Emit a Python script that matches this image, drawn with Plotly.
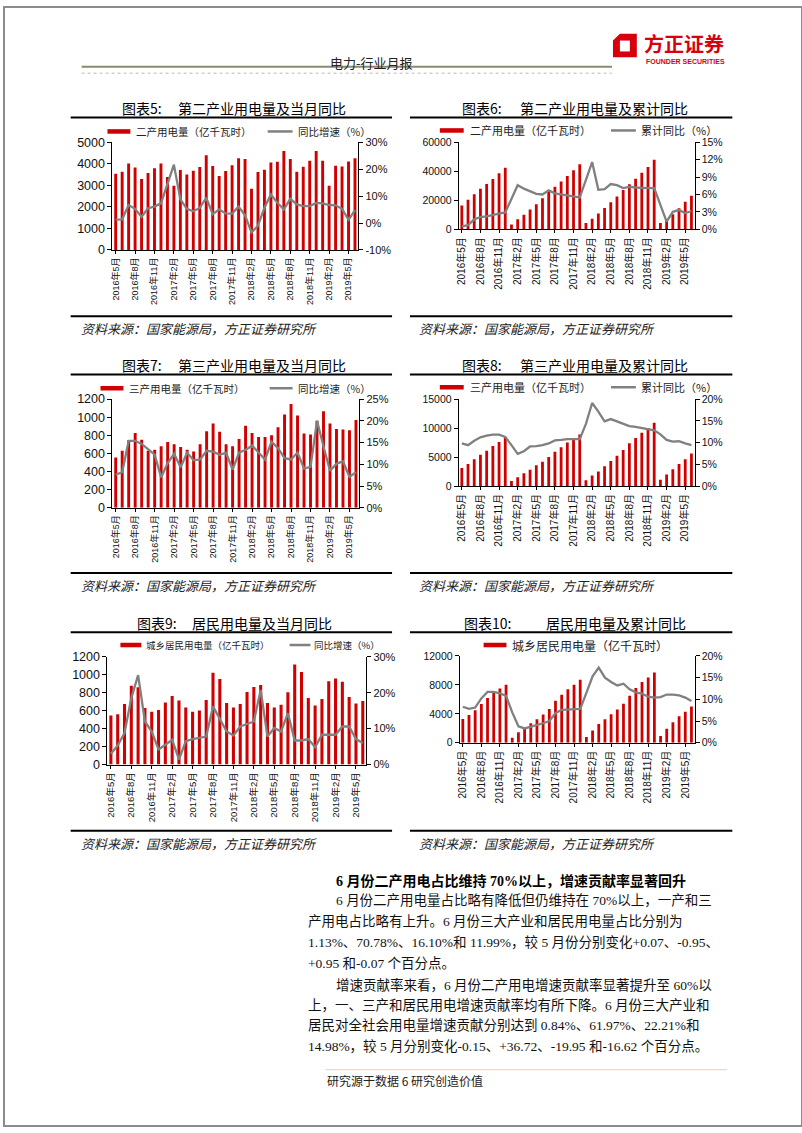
import plotly.graph_objects as go

W, H = 802, 1133

# ---------------- data ----------------
months = ["2016年5月", "2016年6月", "2016年7月", "2016年8月", "2016年9月", "2016年10月", "2016年11月", "2016年12月",
          "2017年1月", "2017年2月", "2017年3月", "2017年4月", "2017年5月", "2017年6月", "2017年7月", "2017年8月",
          "2017年9月", "2017年10月", "2017年11月", "2017年12月",
          "2018年1月", "2018年2月", "2018年3月", "2018年4月", "2018年5月", "2018年6月", "2018年7月", "2018年8月",
          "2018年9月", "2018年10月", "2018年11月", "2018年12月",
          "2019年1月", "2019年2月", "2019年3月", "2019年4月", "2019年5月", "2019年6月"]
tick_labels = ["2016年5月", "2016年8月", "2016年11月", "2017年2月", "2017年5月", "2017年8月", "2017年11月",
               "2018年2月", "2018年5月", "2018年8月", "2018年11月", "2019年2月", "2019年5月"]

sec_month = [3540, 3630, 4020, 3830, 3300, 3570, 3790, 4020, 3390, 2980, 3710, 3500, 3680, 3850, 4400, 3900,
             3440, 3670, 3930, 4260, 4220, 2840, 3620, 3730, 4060, 4100, 4600, 4220, 3630, 3860, 4140, 4600,
             4140, 2980, 3910, 3880, 4110, 4260]
sec_month_yoy = [1.3, 1.4, 6.7, 5.3, 2.3, 5.5, 6.1, 7.3, 14.5, 21.7, 8.8, 5.3, 4.4, 5.6, 9.4, 3.3, 5.1, 3.6,
                 3.5, 6.1, 2.9, -3.5, -1.0, 5.7, 10.6, 7.5, 5.1, 9.0, 6.9, 6.3, 6.3, 7.5, 7.3, 6.7, 6.6, 5.3,
                 1.2, 4.8]
sec_cum = [16300, 20400, 24200, 28000, 31200, 34600, 38700, 42500, 3200, 6800, 10000, 13600, 17200, 21300,
           25800, 29400, 33000, 36700, 40700, 44800, 4300, 7200, 10900, 14700, 18600, 22600, 27100, 31000,
           34800, 38900, 43000, 48000, 4300, 6800, 10400, 14500, 19000, 23100]
sec_cum_yoy = [0.5, 0.7, 1.7, 2.1, 2.2, 2.5, 2.7, 2.9, 5.3, 7.6, 7.0, 6.5, 6.1, 6.0, 6.7, 6.2, 6.0, 5.8, 5.6,
               5.5, 8.5, 11.6, 6.8, 6.9, 7.8, 7.6, 7.1, 7.3, 7.2, 7.1, 7.1, 7.1, 4.2, 1.3, 3.0, 3.3, 2.8, 3.1]

ter_month = [555, 630, 745, 825, 750, 630, 640, 680, 725, 700, 670, 640, 620, 700, 845, 930, 840, 700, 680,
             760, 905, 825, 780, 780, 800, 890, 1030, 1145, 1020, 820, 810, 960, 1065, 930, 870, 865, 855, 970]
ter_month_yoy = [7.6, 8.2, 15.4, 15.4, 14.7, 13.5, 12.2, 7.0, 10.3, 12.4, 9.3, 12.7, 10.9, 11.1, 13.1, 12.9,
                 12.2, 12.6, 8.8, 12.7, 13.3, 14.3, 12.7, 11.1, 15.2, 13.7, 11.4, 11.1, 12.7, 9.0, 9.4, 20.0,
                 14.1, 8.5, 10.1, 10.7, 7.1, 8.2]
ter_cum = [3100, 3800, 4600, 5400, 6100, 6900, 7600, 8400, 850, 1500, 2200, 2800, 3600, 4200, 5000, 5900,
           6700, 7500, 8300, 8900, 1000, 1800, 2500, 3400, 4300, 5200, 6200, 7400, 8300, 9200, 10000, 10900,
           1100, 2000, 2900, 3800, 4600, 5600]
ter_cum_yoy = [9.8, 9.4, 10.4, 11.2, 11.6, 11.8, 11.8, 11.3, 9.4, 7.4, 8.0, 9.1, 9.2, 9.4, 9.8, 10.5, 10.6,
               10.8, 10.8, 10.8, 14.3, 19.1, 17.1, 14.9, 15.4, 14.9, 14.3, 13.8, 13.6, 13.3, 13.1, 12.8, 11.9,
               10.6, 10.2, 10.3, 9.8, 9.4]

res_month = [547, 561, 676, 879, 860, 631, 587, 609, 690, 764, 713, 635, 587, 602, 720, 1023, 953, 687, 635,
             676, 809, 864, 886, 687, 635, 665, 805, 1115, 1030, 742, 657, 731, 927, 960, 923, 753, 679, 709]
res_month_yoy = [3.0, 5.3, 8.8, 18.5, 24.9, 12.0, 9.2, 4.2, 5.5, 6.9, 1.4, 6.5, 7.1, 7.4, 7.8, 16.2, 12.9,
                 9.2, 8.1, 10.6, 11.3, 12.0, 20.8, 7.8, 10.2, 9.2, 14.3, 6.7, 6.7, 7.1, 4.8, 8.3, 8.3, 8.3,
                 10.6, 10.6, 7.1, 6.0]
res_cum = [3300, 3850, 4500, 5350, 6200, 6900, 7500, 8000, 700, 1450, 2100, 2700, 3250, 3900, 4650, 5800,
           6650, 7400, 8000, 8700, 800, 1700, 2600, 3250, 3950, 4600, 5400, 6500, 7550, 8400, 9000, 9700,
           950, 1950, 2850, 3650, 4300, 5000]
res_cum_yoy = [8.3, 7.8, 8.1, 10.2, 11.7, 11.7, 11.4, 10.8, 7.0, 3.8, 3.3, 3.7, 4.0, 4.5, 5.0, 6.8, 7.6, 7.7,
               7.7, 7.8, 11.5, 15.3, 17.3, 15.0, 14.0, 13.2, 13.6, 12.3, 11.6, 11.3, 10.6, 10.4, 10.5, 11.1,
               11.1, 10.9, 10.4, 9.6]

# ---------------- styling ----------------
RED = "#D00000"
GRAY = "#808080"
CJK = "Noto Sans CJK SC"
NUM = "Liberation Sans, Noto Sans CJK SC"
SERIF = "Liberation Serif, Noto Sans CJK SC"


def px(x):
    return x / W


def py(y):
    return 1 - y / H


charts = [
    dict(bars=sec_month, line=sec_month_yoy, no="图表5:", title="第二产业用电量及当月同比",
         bar_name="二产用电量（亿千瓦时）", line_name="同比增速（%）",
         box=(109, 137, 356, 246), yl=(0, 5000, 1000), yr=(-10, 30, 10),
         no_x=117, title_x=173, title_y=102, leg=(104, 127, 126, 131, 265, 290, 293, 10.5),
         yfs=12.5, yrfs=11, xfs=9),
    dict(bars=sec_cum, line=sec_cum_yoy, no="图表6:", title="第二产业用电量及累计同比",
         bar_name="二产用电量（亿千瓦时）", line_name="累计同比（%）",
         box=(457, 137, 694, 225), yl=(0, 60000, 20000), yr=(0, 15, 3),
         no_x=458, title_x=517, title_y=102, leg=(438, 462, 125, 466, 610, 635, 638, 11),
         yfs=10.5, yrfs=10.5, xfs=10),
    dict(bars=ter_month, line=ter_month_yoy, no="图表7:", title="第三产业用电量及当月同比",
         bar_name="三产用电量（亿千瓦时）", line_name="同比增速（%）",
         box=(109, 397, 357, 507), yl=(0, 1200, 200), yr=(0, 25, 5),
         no_x=117, title_x=173, title_y=362, leg=(97, 120, 386, 124, 267, 290, 293, 10.5),
         yfs=12.5, yrfs=11, xfs=9),
    dict(bars=ter_cum, line=ter_cum_yoy, no="图表8:", title="第三产业用电量及累计同比",
         bar_name="三产用电量（亿千瓦时）", line_name="累计同比（%）",
         box=(457, 397, 694, 485), yl=(0, 15000, 5000), yr=(0, 20, 5),
         no_x=458, title_x=517, title_y=362, leg=(438, 462, 385, 466, 610, 635, 638, 11),
         yfs=10.5, yrfs=10.5, xfs=10),
    dict(bars=res_month, line=res_month_yoy, no="图表9:", title="居民用电量及当月同比",
         bar_name="城乡居民用电量（亿千瓦时）", line_name="同比增速（%）",
         box=(104, 658, 364, 767), yl=(0, 1200, 200), yr=(0, 30, 10),
         no_x=132, title_x=187, title_y=624, leg=(117, 138, 646, 141, 287, 308, 310, 9.5),
         yfs=12.5, yrfs=11, xfs=9.5),
    dict(bars=res_cum, line=res_cum_yoy, no="图表10:", title="居民用电量及累计同比",
         bar_name="城乡居民用电量（亿千瓦时）", line_name=None,
         box=(458, 657, 694, 745), yl=(0, 12000, 4000), yr=(0, 20, 5),
         no_x=460, title_x=543, title_y=624, leg=(482, 505, 646, 509, None, None, None, 12),
         yfs=10.5, yrfs=10.5, xfs=10),
]

fig = go.Figure()
layout = {}
annotations = []
shapes = []


def txt(x, y, s, size, color="#111", family=CJK, xanchor="left", yanchor="middle", **kw):
    annotations.append(dict(x=px(x), y=py(y), xref="paper", yref="paper", text=s, showarrow=False,
                            xanchor=xanchor, yanchor=yanchor,
                            font=dict(size=size, color=color, family=family, **kw)))


def hline(x0, x1, y, color="black", width=2, dash=None):
    ln = dict(color=color, width=width)
    if dash:
        ln["dash"] = dash
    shapes.append(dict(type="line", xref="paper", yref="paper", x0=px(x0), x1=px(x1), y0=py(y), y1=py(y),
                       line=ln))


for i, c in enumerate(charts):
    xid = "x" if i == 0 else f"x{i + 1}"
    ylid = "y" if i == 0 else f"y{2 * i + 1}"
    yrid = f"y{2 * i + 2}"
    fig.add_trace(go.Bar(x=months, y=c["bars"], name=c["bar_name"], marker=dict(color=RED, line=dict(width=0)),
                         xaxis=xid, yaxis=ylid, showlegend=False))
    fig.add_trace(go.Scatter(x=months, y=c["line"], mode="lines", name=c["line_name"] or "累计同比",
                             line=dict(color=GRAY, width=2.3), xaxis=xid, yaxis=yrid, showlegend=False))
    x0, y0, x1, y1 = c["box"]
    xkey = "xaxis" if i == 0 else f"xaxis{i + 1}"
    ylkey = "yaxis" if i == 0 else f"yaxis{2 * i + 1}"
    yrkey = f"yaxis{2 * i + 2}"
    layout[xkey] = dict(domain=[px(x0), px(x1)], anchor=ylid, type="category", categoryorder="array",
                        categoryarray=months, range=[-0.5, len(months) - 0.5], tickmode="array",
                        tickvals=tick_labels, ticktext=tick_labels, tickangle=-90,
                        tickfont=dict(family=NUM, size=c["xfs"], color="#111"),
                        showline=True, linecolor="black", linewidth=1, ticks="outside", ticklen=3,
                        tickcolor="black", showgrid=False, zeroline=False)
    lo, hi, st = c["yl"]
    lvals = list(range(lo, hi + 1, st))
    layout[ylkey] = dict(domain=[py(y1), py(y0)], anchor=xid, range=[lo, hi], tickmode="array",
                         tickvals=lvals, ticktext=[str(v) for v in lvals],
                         tickfont=dict(family=NUM, size=c["yfs"], color="#111"),
                         showline=True, linecolor="black", linewidth=1, ticks="outside", ticklen=4,
                         tickcolor="black", showgrid=False, zeroline=False)
    rlo, rhi, rst = c["yr"]
    rvals = list(range(rlo, rhi + 1, rst))
    layout[yrkey] = dict(anchor=xid, overlaying=ylid, side="right", range=[rlo, rhi], tickmode="array",
                         tickvals=rvals, ticktext=[f"{v}%" for v in rvals],
                         tickfont=dict(family=NUM, size=c["yrfs"], color="#111"),
                         showline=True, linecolor="black", linewidth=1, ticks="outside", ticklen=4,
                         tickcolor="black", showgrid=False, zeroline=False)

    # title
    txt(c["no_x"], c["title_y"], c["no"], 14, color="#000")
    txt(c["title_x"], c["title_y"], c["title"], 14, color="#000")
    # legend
    kx0, kx1, ky, lx, gx0, gx1, glx, fs = c["leg"]
    shapes.append(dict(type="rect", xref="paper", yref="paper", x0=px(kx0), x1=px(kx1), y0=py(ky + 2.3),
                       y1=py(ky - 2.3), fillcolor=RED, line=dict(width=0)))
    txt(lx, ky, c["bar_name"], fs, color="#222")
    if c["line_name"]:
        hline(gx0, gx1, ky, color=GRAY, width=2.5)
        txt(glx, ky, c["line_name"], fs, color="#222")

# frame rules and sources
for row, (ty, by, sy) in enumerate([(112, 313, 326), (372, 573, 586), (633, 834, 847)]):
    for (lx0, lx1, sx) in [(67, 390, 75), (408, 732, 415)]:
        hline(lx0, lx1, ty, width=2)
        hline(lx0, lx1, by, width=2)
        txt(sx, sy, "资料来源：国家能源局，方正证券研究所", 13, color="#222", style="italic")

# header
txt(369, 56, "电力-行业月报", 13, color="#222", xanchor="center")
hline(78, 611, 60.5, color="#8A8A70", width=2)
hline(78, 611, 67, color="#BBBBBB", width=1, dash="dot")
# logo
outer = "M {},{} L {},{} L {},{} L {},{} L {},{} Z".format(
    px(612), py(34), px(619), py(27), px(636), py(27), px(636), py(51), px(612), py(51))
inner = "M {},{} L {},{} L {},{} L {},{} Z".format(
    px(619), py(34), px(629), py(34), px(629), py(45), px(619), py(45))
shapes.append(dict(type="path", xref="paper", yref="paper", path=outer, fillcolor="#D7000F",
                   line=dict(width=0)))
shapes.append(dict(type="path", xref="paper", yref="paper", path=inner, fillcolor="white",
                   line=dict(width=0)))
txt(641, 37, "<b>方正证券</b>", 20, color="#D7000F")
txt(643, 55, "<b>FOUNDER SECURITIES</b>", 7, color="#D7000F", family="Liberation Sans")

# body text
txt(332, 885, "<b>6 月份二产用电占比维持 70%以上，增速贡献率显著回升</b>", 14, color="#000", family=SERIF)
body = [
    ("6 月份二产用电量占比略有降低但仍维持在 70%以上，一产和三", 332, 905),
    ("产用电占比略有上升。6 月份三大产业和居民用电量占比分别为", 304, 926),
    ("1.13%、70.78%、16.10%和 11.99%，较 5 月份分别变化+0.07、-0.95、", 304, 947),
    ("+0.95 和-0.07 个百分点。", 304, 968),
    ("增速贡献率来看，6 月份二产用电增速贡献率显著提升至 60%以", 332, 990),
    ("上，一、三产和居民用电增速贡献率均有所下降。6 月份三大产业和", 304, 1010),
    ("居民对全社会用电量增速贡献分别达到 0.84%、61.97%、22.21%和", 304, 1031),
    ("14.98%，较 5 月分别变化-0.15、+36.72、-19.95 和-16.62 个百分点。", 304, 1052),
]
for s, x, y in body:
    txt(x, y, s, 13.5, color="#111", family=SERIF)

# footer
hline(323, 727, 1076, color="#F2CDAE", width=1)
txt(323, 1087, "研究源于数据 6 研究创造价值", 12, color="#222")

# page border
shapes.append(dict(type="rect", xref="paper", yref="paper", x0=0, x1=1, y0=0, y1=1,
                   line=dict(color="#8C8C8C", width=2), fillcolor="rgba(0,0,0,0)"))

fig.update_layout(width=W, height=H, margin=dict(l=0, r=0, t=0, b=0), paper_bgcolor="white",
                  plot_bgcolor="white", bargap=0.55, showlegend=False, annotations=annotations,
                  shapes=shapes, hovermode=False, **layout)
fig.write_html("out.html", config={"responsive": False, "displayModeBar": False, "staticPlot": True},
               post_script="document.body.style.margin='0';document.body.style.overflow='hidden';")
